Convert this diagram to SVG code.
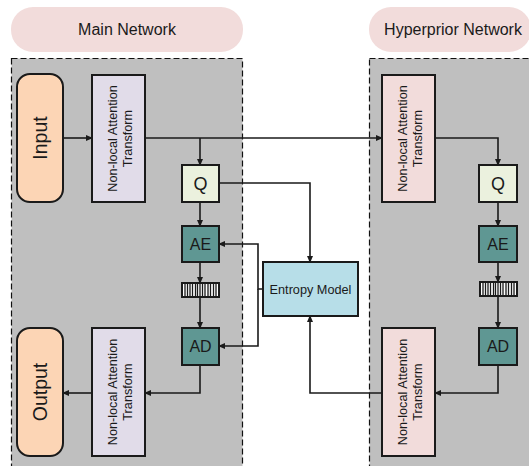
<svg xmlns="http://www.w3.org/2000/svg" width="529" height="466" viewBox="0 0 529 466">
<defs>
<style>
text{font-family:"Liberation Sans",Arial,sans-serif;fill:#1a1a1a;text-anchor:middle}
.pill{fill:#f2dcdb;stroke:none}
.zone{fill:#bfbfbf;stroke:#111111;stroke-width:1.2;stroke-dasharray:6,3}
.box{stroke:#1a1a1a;stroke-width:2}
.io{fill:#fcd5b5}
.nl{fill:#e1dce9}
.nlh{fill:#f2dcdb}
.q{fill:#ebf1de}
.ac{fill:#5f9793}
.em{fill:#b7dee8}
.ln{fill:none;stroke:#1a1a1a;stroke-width:1.6}
.big{font-size:19.5px}
.hd{font-size:16px}
.sm{font-size:12.7px}
</style>
<marker id="ah" markerUnits="userSpaceOnUse" markerWidth="7" markerHeight="6" refX="6" refY="3" orient="auto">
<path d="M0,0 L7,3 L0,6 z" fill="#1a1a1a"/>
</marker>
<g id="bits">
<rect x="0" y="0" width="37" height="14" fill="#ffffff" stroke="#1a1a1a" stroke-width="2"/>
<path d="M3,1V13M5.5,1V13M8,1V13M10.5,1V13M13.5,1V13M15.5,1V13M18,1V13M20.5,1V13M23,1V13M26,1V13M28.5,1V13M31.5,1V13M34,1V13" stroke="#1a1a1a" stroke-width="1.3"/>
</g>
</defs>

<g id="main-network">
<rect class="pill" x="11" y="7" width="232" height="45" rx="22"/>
<text class="hd" x="127" y="34.5">Main Network</text>
<rect class="zone" x="11.5" y="58.5" width="231" height="420"/>
</g>
<g id="hyperprior-network">
<rect class="pill" x="369" y="7" width="162" height="45" rx="22"/>
<text class="hd" x="453" y="34.5">Hyperprior Network</text>
<rect class="zone" x="369.5" y="58.5" width="200" height="420"/>
</g>

<g id="connectors">
<path class="ln" d="M63,138H92" marker-end="url(#ah)"/>
<path class="ln" d="M145,138H382" marker-end="url(#ah)"/>
<path class="ln" d="M200,138V165" marker-end="url(#ah)"/>
<path class="ln" d="M219,183H310V262" marker-end="url(#ah)"/>
<path class="ln" d="M200,202V226" marker-end="url(#ah)"/>
<path class="ln" d="M200,262V283" marker-end="url(#ah)"/>
<path class="ln" d="M200,297V328" marker-end="url(#ah)"/>
<path class="ln" d="M263,289H258V244H219" marker-end="url(#ah)"/>
<path class="ln" d="M258,289V346H219" marker-end="url(#ah)"/>
<path class="ln" d="M200,365V393H145" marker-end="url(#ah)"/>
<path class="ln" d="M92,393H63" marker-end="url(#ah)"/>
<path class="ln" d="M435,138H498V165" marker-end="url(#ah)"/>
<path class="ln" d="M498,202V226" marker-end="url(#ah)"/>
<path class="ln" d="M498,262V282" marker-end="url(#ah)"/>
<path class="ln" d="M498,296V328" marker-end="url(#ah)"/>
<path class="ln" d="M498,365V393H435" marker-end="url(#ah)"/>
<path class="ln" d="M382,393H310V316" marker-end="url(#ah)"/>
</g>

<g id="input">
<rect class="box io" x="17" y="74" width="46" height="128" rx="13"/>
<text class="big" transform="translate(40,138) rotate(-90)" x="0" y="7">Input</text>
</g>
<g id="nlat-main-enc">
<rect class="box nl" x="92" y="75" width="53" height="127"/>
<text class="sm" transform="translate(118.5,138.5) rotate(-90)"><tspan x="0" y="-1.5">Non-local Attention</tspan><tspan x="0" y="13.5">Transform</tspan></text>
</g>
<g id="q-main">
<rect class="box q" x="182" y="165" width="37" height="37"/>
<text x="200.5" y="190" style="font-size:18px">Q</text>
</g>
<g id="ae-main">
<rect class="box ac" x="182" y="226" width="37" height="36"/>
<text class="hd" x="200.5" y="249.5">AE</text>
</g>
<g id="bits-main">
<use href="#bits" x="182" y="283"/>
</g>
<g id="ad-main">
<rect class="box ac" x="182" y="328" width="37" height="37"/>
<text class="hd" x="200.5" y="352">AD</text>
</g>
<g id="nlat-main-dec">
<rect class="box nl" x="92" y="328" width="53" height="128"/>
<text class="sm" transform="translate(118.5,392) rotate(-90)"><tspan x="0" y="-1.5">Non-local Attention</tspan><tspan x="0" y="13.5">Transform</tspan></text>
</g>
<g id="output">
<rect class="box io" x="17" y="328" width="46" height="128" rx="13"/>
<text class="big" transform="translate(40,392) rotate(-90)" x="0" y="7">Output</text>
</g>
<g id="entropy-model">
<rect class="box em" x="263" y="262" width="95" height="54"/>
<text class="sm" x="310.5" y="293.5">Entropy Model</text>
</g>
<g id="nlat-hyper-enc">
<rect class="box nlh" x="382" y="75" width="53" height="127"/>
<text class="sm" transform="translate(408.5,138.5) rotate(-90)"><tspan x="0" y="-1.5">Non-local Attention</tspan><tspan x="0" y="13.5">Transform</tspan></text>
</g>
<g id="q-hyper">
<rect class="box q" x="479" y="165" width="38" height="37"/>
<text x="498" y="190" style="font-size:18px">Q</text>
</g>
<g id="ae-hyper">
<rect class="box ac" x="479" y="226" width="38" height="36"/>
<text class="hd" x="498" y="249.5">AE</text>
</g>
<g id="bits-hyper">
<use href="#bits" x="480" y="282"/>
</g>
<g id="ad-hyper">
<rect class="box ac" x="479" y="328" width="38" height="37"/>
<text class="hd" x="498" y="352">AD</text>
</g>
<g id="nlat-hyper-dec">
<rect class="box nlh" x="382" y="328" width="53" height="128"/>
<text class="sm" transform="translate(408.5,392) rotate(-90)"><tspan x="0" y="-1.5">Non-local Attention</tspan><tspan x="0" y="13.5">Transform</tspan></text>
</g>
</svg>
